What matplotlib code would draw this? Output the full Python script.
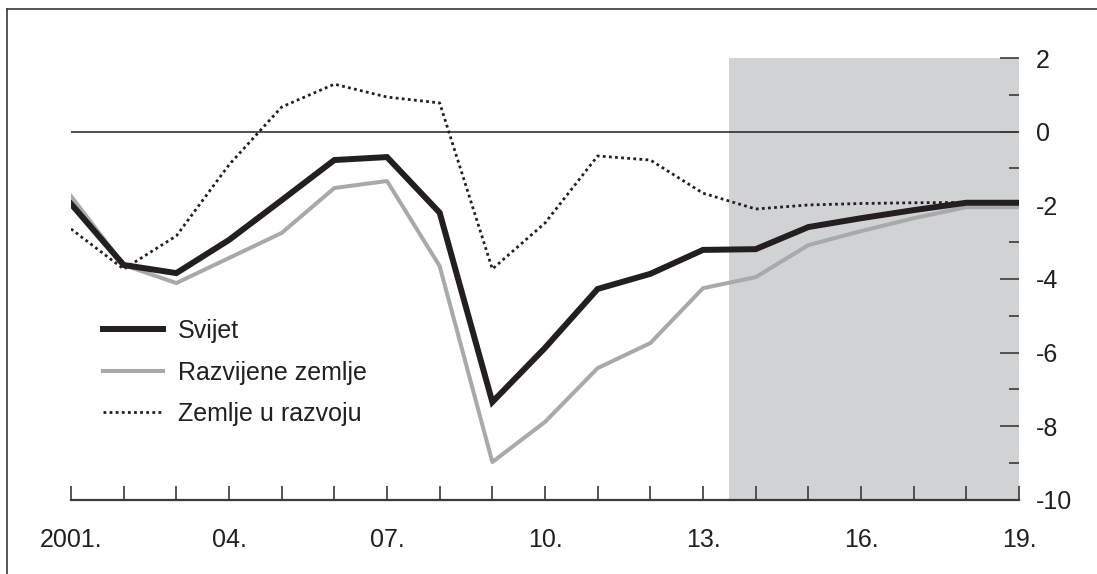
import matplotlib.pyplot as plt
from matplotlib.lines import Line2D
from matplotlib.ticker import MultipleLocator

plt.rcParams['font.family'] = ['Liberation Sans', 'DejaVu Sans']
plt.rcParams['axes.unicode_minus'] = False

years = list(range(2001, 2020))
svijet = [-1.96, -3.62, -3.84, -2.94, -1.86, -0.77, -0.69, -2.2, -7.34, -5.87,
          -4.27, -3.86, -3.21, -3.19, -2.59, -2.35, -2.13, -1.93, -1.93]
razvijene = [-1.75, -3.62, -4.11, -3.43, -2.75, -1.53, -1.34, -3.65, -8.97, -7.88,
             -6.42, -5.74, -4.25, -3.95, -3.08, -2.7, -2.35, -2.05, -2.05]
u_razvoju = [-2.64, -3.73, -2.83, -0.9, 0.67, 1.29, 0.94, 0.78, -3.73, -2.48,
             -0.66, -0.77, -1.67, -2.1, -1.99, -1.95, -1.93, -1.92, -1.92]
label_years = [2001, 2004, 2007, 2010, 2013, 2016, 2019]
label_text = ["2001.", "04.", "07.", "10.", "13.", "16.", "19."]
forecast_start = 2013.5

black = '#231f20'
fig = plt.figure(figsize=(10.97, 5.74), dpi=100)
ax = fig.add_axes([71/1097, 1 - 500/574, (1019 - 71)/1097, (500 - 58)/574])

ax.axvspan(forecast_start, years[-1], color='#d1d2d4', lw=0, zorder=0)
ax.axhline(0, color=black, lw=1.1, zorder=1)

ax.plot(years, svijet, color=black, lw=4.3, label='Svijet', zorder=4,
        solid_joinstyle='miter')
ax.plot(years, razvijene, color='#a8a9ab', lw=2.9, label='Razvijene zemlje', zorder=3)
ax.plot(years, u_razvoju, color=black, lw=2.0, ls=(0, (1, 1.2)),
        label='Zemlje u razvoju', zorder=5)

ax.set_xlim(years[0], years[-1])
ax.set_ylim(-10, 2)

for s in ['top', 'left', 'right']:
    ax.spines[s].set_visible(False)
ax.spines['bottom'].set_color('#3a3a3a')
ax.spines['bottom'].set_linewidth(1.6)

ax.set_xticks(years, minor=True)
ax.set_xticks(label_years, label_text)
ax.tick_params(axis='x', which='both', direction='in', length=10, width=1.2,
               color='#3a3a3a', labelsize=18, labelcolor=black, pad=20)

ax.yaxis.tick_right()
ax.yaxis.set_major_locator(MultipleLocator(2))
ax.yaxis.set_minor_locator(MultipleLocator(1))
ax.tick_params(axis='y', which='major', direction='in', length=14, width=1.2,
               color='#3a3a3a', labelsize=18, labelcolor=black, pad=12)
ax.tick_params(axis='y', which='minor', direction='in', length=7, width=1.2,
               color='#3a3a3a')

leg = ax.legend(loc='upper left', bbox_to_anchor=(0.01, 0.46), frameon=False,
                fontsize=18, handlelength=2.4, handletextpad=0.6, labelspacing=0.7)
for t in leg.get_texts():
    t.set_color(black)

# outer frame (top and left)
fig.add_artist(Line2D([7/1097, 1], [1 - 9/574, 1 - 9/574], color='#3a3a3a', lw=1.2))
fig.add_artist(Line2D([7/1097, 7/1097], [0, 1 - 9/574], color='#3a3a3a', lw=1.2))

fig.savefig('out.png', dpi=100)
